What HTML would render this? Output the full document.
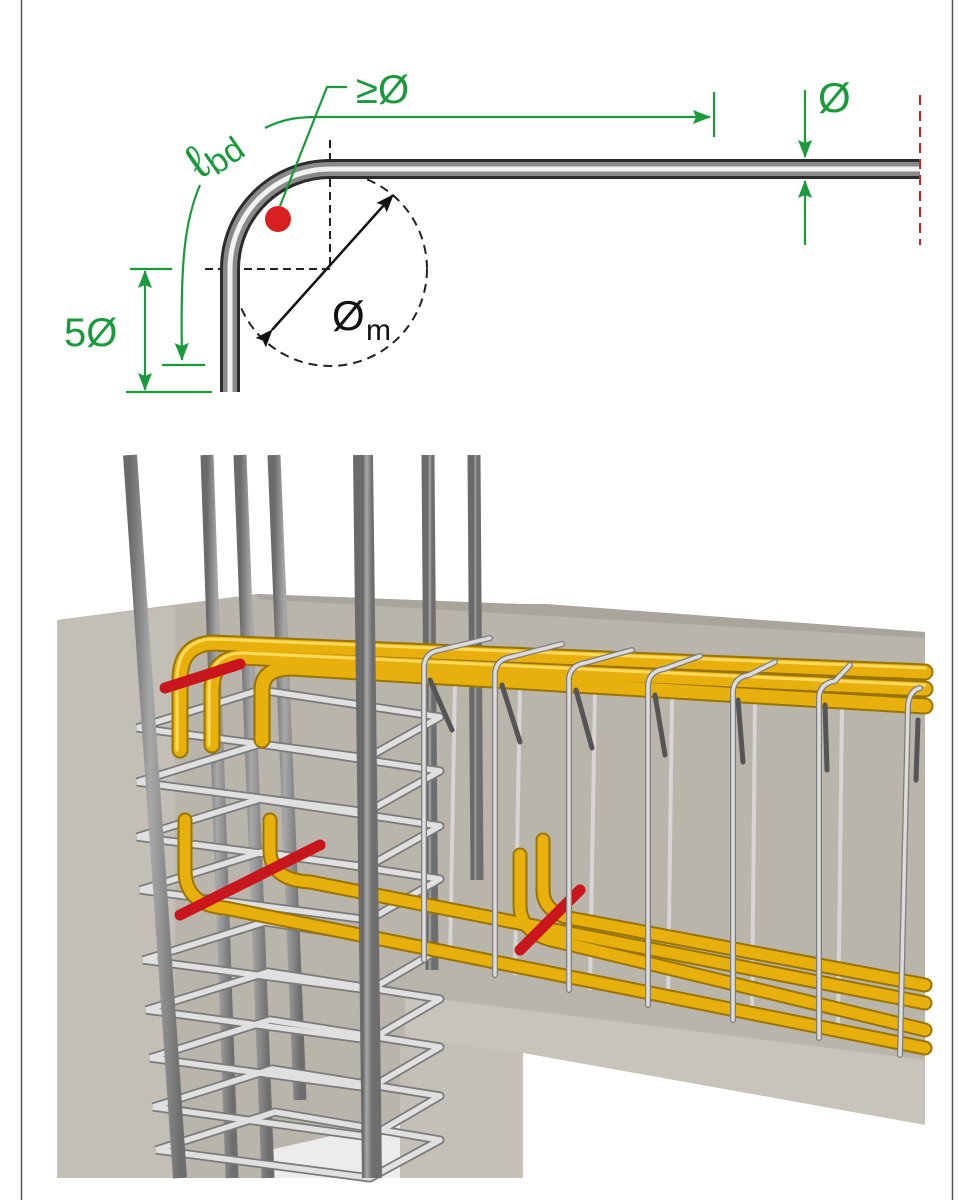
<!DOCTYPE html>
<html><head><meta charset="utf-8"><style>
html,body{margin:0;padding:0;background:#fff;}
svg{display:block;}
</style></head><body>
<svg width="973" height="1200" viewBox="0 0 973 1200" xmlns="http://www.w3.org/2000/svg">
<defs>
<linearGradient id="colbar" x1="0" y1="0" x2="1" y2="0">
<stop offset="0" stop-color="#6a6a6a"/><stop offset="0.4" stop-color="#a8a8a8"/><stop offset="1" stop-color="#6e6e6e"/>
</linearGradient>
<marker id="ak" markerWidth="18" markerHeight="14" refX="17" refY="7" orient="auto" markerUnits="userSpaceOnUse"><path d="M0,0 L18,7 L0,14 L3,7 Z" fill="#111"/></marker>
<marker id="agb" markerWidth="18" markerHeight="14" refX="17" refY="7" orient="auto" markerUnits="userSpaceOnUse"><path d="M0,0 L18,7 L0,14 L3,7 Z" fill="#1a9a3c"/></marker>
</defs>
<line x1="21.5" y1="0" x2="21.5" y2="1200" stroke="#555" stroke-width="1.5"/>
<line x1="952.5" y1="0" x2="952.5" y2="1200" stroke="#555" stroke-width="1.5"/>

<circle cx="330" cy="269" r="97" fill="none" stroke="#222" stroke-width="2" stroke-dasharray="9,6"/>
<line x1="330" y1="140" x2="330" y2="269" stroke="#222" stroke-width="2" stroke-dasharray="8,5"/>
<line x1="205" y1="269" x2="330" y2="269" stroke="#222" stroke-width="2" stroke-dasharray="8,5"/>
<path d="M230,392 L230,269 A100,100 0 0 1 330,169 L920,169" fill="none" stroke="#2c2c2c" stroke-width="20"/>
<path d="M230,392 L230,269 A100,100 0 0 1 330,169 L920,169" fill="none" stroke="#8a8a8a" stroke-width="14"/>
<path d="M230,392 L230,269 A100,100 0 0 1 330,169 L920,169" fill="none" stroke="#f2f2f2" stroke-width="5"/>
<line x1="920" y1="95" x2="920" y2="245" stroke="#d42020" stroke-width="2" stroke-dasharray="10,6"/>
<line x1="272" y1="330" x2="393" y2="195" stroke="#111" stroke-width="2.5" marker-end="url(#ak)" marker-start="url(#ak)"/>
<text x="332" y="330" font-family="Liberation Sans, sans-serif" font-size="42" fill="#111">Ø</text>
<text x="366" y="340" font-family="Liberation Sans, sans-serif" font-size="30" fill="#111">m</text>
<circle cx="278" cy="219" r="13" fill="#d82020"/>
<g stroke="#1a9a3c" stroke-width="2.2" fill="none">
<polyline points="280,206 327,87 347,87"/>
<path d="M265,128 C285,118 300,117 320,117 L710,117" marker-end="url(#agb)"/>
<line x1="714" y1="92" x2="714" y2="137"/>
<path d="M200,185 C185,220 180,260 182,360" marker-end="url(#agb)"/>
<line x1="162" y1="365" x2="205" y2="365"/>
<line x1="130" y1="269" x2="172" y2="269"/>
<line x1="126" y1="392" x2="212" y2="392"/>
<line x1="145" y1="330" x2="145" y2="271" marker-end="url(#agb)"/>
<line x1="145" y1="330" x2="145" y2="390" marker-end="url(#agb)"/>
<line x1="805" y1="90" x2="805" y2="157" marker-end="url(#agb)"/>
<line x1="805" y1="245" x2="805" y2="181" marker-end="url(#agb)"/>
</g>
<g font-family="Liberation Sans, sans-serif" fill="#1a9a3c">
<text x="356" y="103" font-size="40">≥Ø</text>
<text x="818" y="112" font-size="42">Ø</text>
<text x="64" y="346" font-size="40">5Ø</text>
<text x="0" y="0" font-size="48" transform="translate(200,180) rotate(-35)">ℓ<tspan font-size="34" dy="6">bd</tspan></text>
</g>

<polygon points="57,620 257,594 520,604 545,604 925,632 925,1125 523,1053 523,1178 57,1178" fill="#b9b5ab"/>
<polygon points="57,620 175,606 175,1178 57,1178" fill="#c3bfb6"/>
<polygon points="257,594 520,604 545,604 925,632 925,638 257,599" fill="#a9a59c"/>
<polygon points="405,995 925,1060 925,1125 523,1053 405,1040" fill="#c8c4bb"/>
<polygon points="400,1040 523,1053 523,1178 400,1178" fill="#c4c0b7"/>
<polygon points="523,1053 925,1125 925,1180 523,1180" fill="#fff"/>
<polygon points="270,1150 400,1120 400,1178 270,1178" fill="#ececec"/>

<g stroke="url(#colbar)">
<line x1="207" y1="455" x2="232" y2="1178" stroke-width="13"/>
<line x1="240" y1="455" x2="268" y2="1178" stroke-width="13"/>
<line x1="274" y1="455" x2="300" y2="1100" stroke-width="13"/>
<line x1="428" y1="455" x2="432" y2="970" stroke-width="13"/>
<line x1="474" y1="455" x2="477" y2="880" stroke-width="13"/>
</g>

<g stroke="#d6d6d6" stroke-width="4" fill="none">
<line x1="455" y1="680" x2="450" y2="960"/>
<line x1="520" y1="685" x2="515" y2="975"/>
<line x1="595" y1="690" x2="590" y2="990"/>
<line x1="672" y1="695" x2="668" y2="1005"/>
<line x1="755" y1="700" x2="752" y2="1020"/>
<line x1="842" y1="705" x2="838" y2="1035"/>
</g>

<g fill="none" stroke-linejoin="round">
<g stroke="#7a7a7a" stroke-width="9">
<polyline points="137,728 367,758 440,717 260,690 137,728"/>
<polyline points="137,782 367,812 440,771 260,744 137,782"/>
<polyline points="137,837 367,867 440,826 260,799 137,837"/>
<polyline points="140,890 369,920 440,879 262,852 140,890"/>
<polyline points="143,960 370,990 440,949 265,922 143,960"/>
<polyline points="146,1010 370,1040 440,999 268,972 146,1010"/>
<polyline points="150,1058 370,1088 440,1047 270,1020 150,1058"/>
<polyline points="153,1107 370,1137 440,1096 272,1069 153,1107"/>
<polyline points="156,1150 370,1178 440,1140 275,1112 156,1150"/>
</g>
<g stroke="#e0e0e0" stroke-width="5.5">
<polyline points="137,728 367,758 440,717 260,690 137,728"/>
<polyline points="137,782 367,812 440,771 260,744 137,782"/>
<polyline points="137,837 367,867 440,826 260,799 137,837"/>
<polyline points="140,890 369,920 440,879 262,852 140,890"/>
<polyline points="143,960 370,990 440,949 265,922 143,960"/>
<polyline points="146,1010 370,1040 440,999 268,972 146,1010"/>
<polyline points="150,1058 370,1088 440,1047 270,1020 150,1058"/>
<polyline points="153,1107 370,1137 440,1096 272,1069 153,1107"/>
<polyline points="156,1150 370,1178 440,1140 275,1112 156,1150"/>
</g>
</g>

<g fill="none" stroke-linecap="round">
<g stroke="#9a7400" stroke-width="17">
<path d="M180,750 L180,680 Q180,645 212,643 L925,672"/>
<path d="M212,745 L212,690 Q212,658 242,657 L925,689"/>
<path d="M262,740 L262,690 Q262,668 292,668 L925,706"/>
</g>
<g stroke="#e8b00c" stroke-width="13">
<path d="M180,750 L180,680 Q180,645 212,643 L925,672"/>
<path d="M212,745 L212,690 Q212,658 242,657 L925,689"/>
<path d="M262,740 L262,690 Q262,668 292,668 L925,706"/>
</g>
<g stroke="#ffd95a" stroke-width="3">
<path d="M177,750 L177,680 Q177,641 212,639 L925,668"/>
<path d="M209,745 L209,690 Q209,654 242,653 L925,685"/>
</g>
<g stroke="#9a7400" stroke-width="15">
<path d="M185,820 L185,870 Q185,905 225,908 L925,1048"/>
<path d="M270,820 L270,850 Q270,880 310,882 L925,1003"/>
<path d="M520,855 L520,905 Q520,935 560,942 L925,1030"/>
<path d="M543,840 L543,890 Q543,915 580,920 L925,985"/>
</g>
<g stroke="#e8b00c" stroke-width="11">
<path d="M185,820 L185,870 Q185,905 225,908 L925,1048"/>
<path d="M270,820 L270,850 Q270,880 310,882 L925,1003"/>
<path d="M520,855 L520,905 Q520,935 560,942 L925,1030"/>
<path d="M543,840 L543,890 Q543,915 580,920 L925,985"/>
</g>
</g>

<g stroke="#c8161c" stroke-width="11" stroke-linecap="round">
<line x1="165" y1="688" x2="240" y2="664"/>
<line x1="180" y1="915" x2="320" y2="845"/>
<line x1="520" y1="950" x2="580" y2="890"/>
</g>

<g stroke="url(#colbar)">
<line x1="130" y1="455" x2="180" y2="1178" stroke-width="14"/>
<line x1="363" y1="455" x2="372" y2="1178" stroke-width="20"/>
</g>

<g fill="none" stroke-linecap="round" stroke-linejoin="round">
<g stroke="#7c7c7c" stroke-width="6">
<path d="M424,960 L424,665 Q426,652 440,650 L490,638"/>
<path d="M495,975 L495,672 Q497,659 511,657 L562,644"/>
<path d="M569,990 L569,678 Q571,665 585,663 L632,650"/>
<path d="M648,1005 L648,684 Q650,671 664,669 L700,656"/>
<path d="M733,1020 L733,690 Q735,677 749,675 L775,662"/>
<path d="M819,1038 L819,696 Q821,683 835,681 L850,665"/>
<path d="M900,1055 L908,705 Q910,690 920,688"/>
</g>
<g stroke="#dcdcdc" stroke-width="3.5">
<path d="M424,960 L424,665 Q426,652 440,650 L490,638"/>
<path d="M495,975 L495,672 Q497,659 511,657 L562,644"/>
<path d="M569,990 L569,678 Q571,665 585,663 L632,650"/>
<path d="M648,1005 L648,684 Q650,671 664,669 L700,656"/>
<path d="M733,1020 L733,690 Q735,677 749,675 L775,662"/>
<path d="M819,1038 L819,696 Q821,683 835,681 L850,665"/>
<path d="M900,1055 L908,705 Q910,690 920,688"/>
</g>
<g stroke="#555" stroke-width="5">
<line x1="430" y1="680" x2="452" y2="730"/>
<line x1="502" y1="685" x2="520" y2="742"/>
<line x1="576" y1="690" x2="592" y2="748"/>
<line x1="655" y1="695" x2="665" y2="755"/>
<line x1="738" y1="700" x2="743" y2="762"/>
<line x1="825" y1="705" x2="827" y2="770"/>
<line x1="918" y1="720" x2="916" y2="780"/>
</g>
</g>
</svg>
</body></html>
